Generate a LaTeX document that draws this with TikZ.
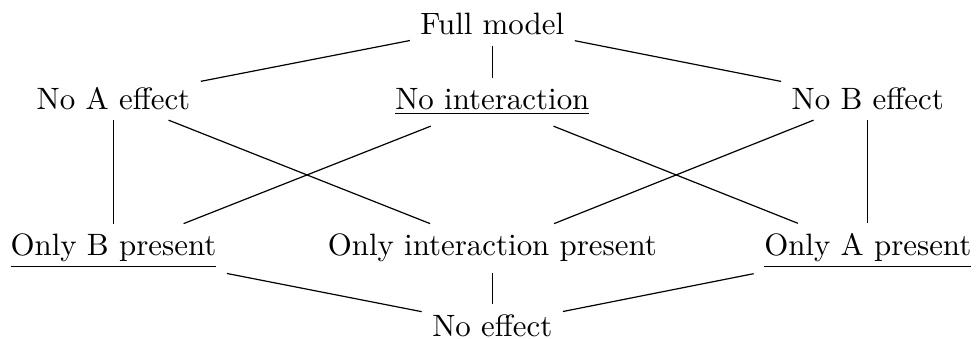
\documentclass[tikz,border=0pt]{standalone}
\usepackage{tikz}

\begin{document}
\begin{tikzpicture}[every node/.style={anchor=base, font=\fontsize{10.3}{12}\selectfont}]
  \useasboundingbox (0,0) rectangle (11.45,3.97);
  % top
  \node (full) at (5.77,3.56) {Full model};
  % one factor removed
  \node (noA) at (1.33,2.69) {No A effect};
  \node (noint) at (5.77,2.69) {\underline{No interaction}};
  \node (noB) at (10.17,2.69) {No B effect};
  % one term left
  \node (onlyB) at (1.33,0.97) {\underline{Only B present}};
  \node (onlyint) at (5.77,0.97) {Only interaction present};
  \node (onlyA) at (10.17,0.97) {\underline{Only A present}};
  % bottom
  \node (noeff) at (5.77,0.03) {No effect};
  \draw (full) -- (noA);
  \draw (full) -- (noint);
  \draw (full) -- (noB);
  \draw (noA) -- (onlyB);
  \draw (noA) -- (onlyint);
  \draw (noint) -- (onlyB);
  \draw (noint) -- (onlyA);
  \draw (noB) -- (onlyint);
  \draw (noB) -- (onlyA);
  \draw (onlyB) -- (noeff);
  \draw (onlyint) -- (noeff);
  \draw (onlyA) -- (noeff);
\end{tikzpicture}
\end{document}
